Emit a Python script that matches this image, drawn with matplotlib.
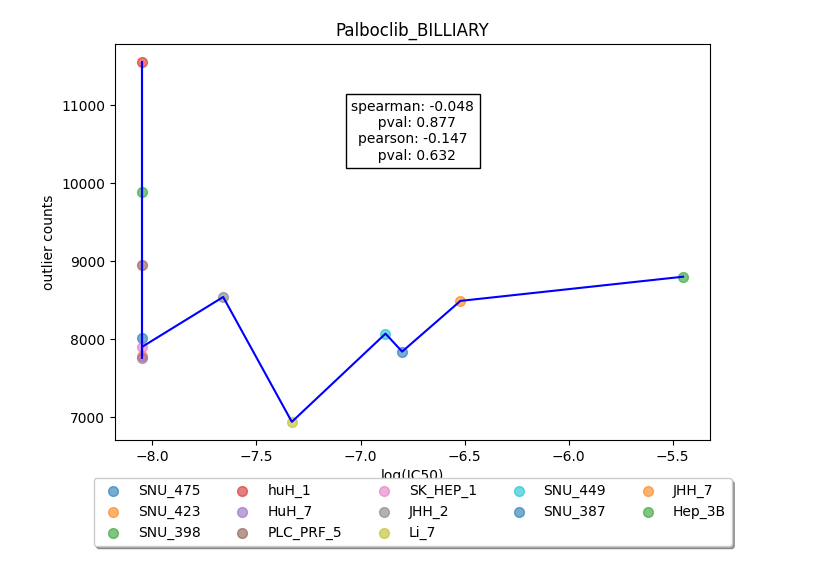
import numpy as np
import matplotlib
matplotlib.use('Agg')
import matplotlib.pyplot as plt

names = ['SNU_475', 'SNU_423', 'SNU_398', 'huH_1', 'HuH_7', 'PLC_PRF_5', 'SK_HEP_1',
         'JHH_2', 'Li_7', 'SNU_449', 'SNU_387', 'JHH_7', 'Hep_3B']
log_ic50 = [-8.05, -8.05, -8.05, -8.05, -8.05, -8.05, -8.05,
            -7.66, -7.33, -6.88, -6.80, -6.52, -5.45]
counts = [8020, 7780, 9880, 11550, 7760, 8950, 7900,
          8540, 6940, 8070, 7840, 8490, 8800]
# order used for the connecting line
line_order = [4, 3, 2, 5, 0, 1, 6, 7, 8, 9, 10, 11, 12]

fig = plt.figure(figsize=(8.21, 5.81), dpi=100)
ax = fig.add_axes([0.14, 0.243, 0.725, 0.681])
for i, n in enumerate(names):
    ax.scatter(log_ic50[i], counts[i], s=50, alpha=0.6, label=n, color='C%d' % (i % 10))
ax.plot([log_ic50[i] for i in line_order], [counts[i] for i in line_order], color='blue')
ax.set_title('Palboclib_BILLIARY')
ax.set_xlabel('log(IC50)')
ax.set_ylabel('outlier counts')
ax.text(0.5, 0.78, 'spearman: -0.048\n  pval: 0.877\npearson: -0.147\n  pval: 0.632',
        transform=ax.transAxes, ha='center', va='center', fontsize=10,
        bbox=dict(facecolor='white', edgecolor='black'))
ax.legend(loc='upper center', bbox_to_anchor=(0.5, -0.08), ncol=5, fancybox=True, shadow=True)
fig.savefig('out.png')
